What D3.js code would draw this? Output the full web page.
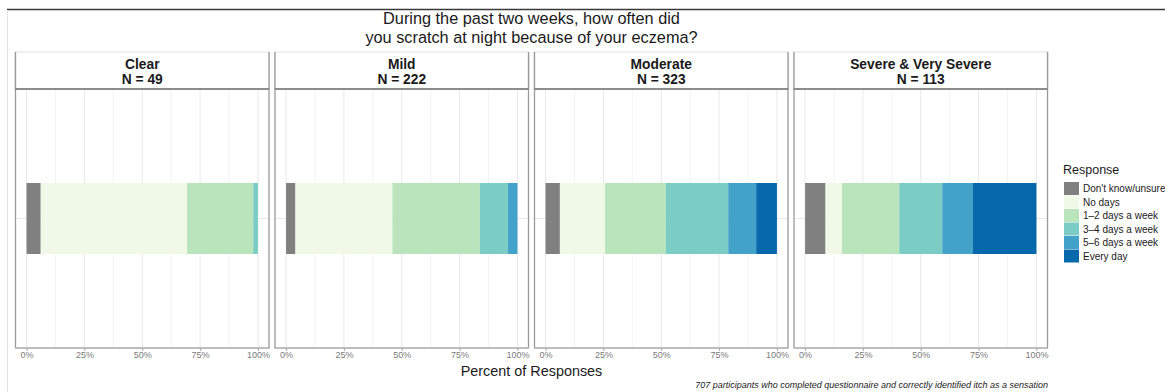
<!DOCTYPE html>
<html>
<head>
<meta charset="utf-8">
<script src="https://cdn.jsdelivr.net/npm/d3@7"></script>
<style>
  html, body { margin: 0; padding: 0; background: #fff; }
  svg { display: block; font-family: "Liberation Sans", Arial, Helvetica, sans-serif; }
</style>
</head>
<body>
<svg id="chart" width="1165" height="392"></svg>
<script>
// ---- data ----
const severities = ["Clear", "Mild", "Moderate", "Severe & Very Severe"];
const totals = [49, 222, 323, 113];
const responses = ["Don't know/unsure", "No days", "1\u20132 days a week", "3\u20134 days a week", "5\u20136 days a week", "Every day"];
const clearCounts = [3, 31, 14, 1, 0, 0];
const mildCounts = [9, 93, 84, 27, 9, 0];
const moderateCounts = [20, 63, 85, 87, 39, 29];
const severeCounts = [10, 8, 28, 21, 15, 31];
const responseColors = ["#808080", "#f0f9e8", "#bae4bc", "#7bccc4", "#43a2ca", "#0868ac"];
const majorTicks = [0, 0.25, 0.5, 0.75, 1];
const minorTicks = [0.125, 0.375, 0.625, 0.875];
const tickLabels = ["0%", "25%", "50%", "75%", "100%"];
const titleLines = ["During the past two weeks, how often did", "you scratch at night because of your eczema?"];
const xTitle = "Percent of Responses";
const legendTitle = "Response";
const caption = "707 participants who completed questionnaire and correctly identified itch as a sensation";

const countsBySeverity = [clearCounts, mildCounts, moderateCounts, severeCounts];

// ---- layout ----
const svg = d3.select("#chart");
const W = 1165, H = 392;
const left = 15, right = 1048, gap = 5;
const stripTop = 52, stripBottom = 89, panelBottom = 348;

// frame
svg.append("line").attr("x1", 7).attr("x2", W).attr("y1", 9.5).attr("y2", 9.5)
  .attr("stroke", "#3a3a3a").attr("stroke-width", 1.5);
svg.append("line").attr("x1", 7.5).attr("x2", 7.5).attr("y1", 10).attr("y2", H)
  .attr("stroke", "#e4e4e4").attr("stroke-width", 1);

const pi = gap * severities.length / (right - left + gap);
const panelScale = d3.scaleBand().domain(severities).range([left, right]).paddingInner(pi).paddingOuter(0);
const pw = panelScale.bandwidth();
const expand = pw * 0.05 / 1.1;

const yBand = d3.scaleBand().domain(["all"]).range([stripBottom, panelBottom]).paddingOuter(1.324).paddingInner(0);

// title
const title = svg.append("text").attr("x", (left + right) / 2).attr("text-anchor", "middle")
  .attr("font-size", 16.3).attr("fill", "#1a1a1a");
titleLines.forEach((t, i) => {
  title.append("tspan").attr("x", (left + right) / 2).attr("y", 24 + i * 19).text(t);
});

severities.forEach((sev, si) => {
  const x0 = panelScale(sev);
  const g = svg.append("g").attr("transform", `translate(${x0},0)`);
  const x = d3.scaleLinear().domain([0, 1]).range([expand, pw - expand]);

  // strip
  g.append("rect").attr("x", 0).attr("y", stripTop).attr("width", pw).attr("height", stripBottom - stripTop)
    .attr("fill", "#fff").attr("stroke", "#e0e0e0").attr("stroke-width", 1);
  g.append("text").attr("x", pw / 2).attr("y", 69).attr("text-anchor", "middle")
    .attr("font-size", 13.8).attr("font-weight", "bold").attr("fill", "#1a1a1a").text(sev);
  g.append("text").attr("x", pw / 2).attr("y", 84).attr("text-anchor", "middle")
    .attr("font-size", 13.8).attr("font-weight", "bold").attr("fill", "#1a1a1a").text("N = " + totals[si]);

  // grid
  g.selectAll(".minor").data(minorTicks).enter().append("line")
    .attr("x1", d => x(d)).attr("x2", d => x(d)).attr("y1", stripBottom).attr("y2", panelBottom)
    .attr("stroke", "#f3f3f3").attr("stroke-width", 1);
  g.selectAll(".major").data(majorTicks).enter().append("line")
    .attr("x1", d => x(d)).attr("x2", d => x(d)).attr("y1", stripBottom).attr("y2", panelBottom)
    .attr("stroke", "#e8e8e8").attr("stroke-width", 1);
  g.append("line").attr("x1", 0).attr("x2", pw)
    .attr("y1", yBand("all") + yBand.bandwidth() / 2).attr("y2", yBand("all") + yBand.bandwidth() / 2)
    .attr("stroke", "#e8e8e8").attr("stroke-width", 1);

  // bars
  const counts = countsBySeverity[si];
  const props = counts.map(c => c / totals[si]);
  const cum = Array.from(d3.cumsum(props));
  const segs = props.map((p, i) => ({ start: i === 0 ? 0 : cum[i - 1], end: cum[i], color: responseColors[i], p }))
    .filter(d => d.p > 0);
  g.selectAll(".bar").data(segs).enter().append("rect")
    .attr("x", d => x(d.start)).attr("width", d => x(d.end) - x(d.start))
    .attr("y", yBand("all")).attr("height", yBand.bandwidth())
    .attr("fill", d => d.color);

  // panel borders (sides + bottom axis)
  g.append("line").attr("x1", 0.5).attr("x2", 0.5).attr("y1", stripTop).attr("y2", panelBottom)
    .attr("stroke", "#9a9a9a").attr("stroke-width", 1.3);
  g.append("line").attr("x1", pw - 0.5).attr("x2", pw - 0.5).attr("y1", stripTop).attr("y2", panelBottom)
    .attr("stroke", "#9a9a9a").attr("stroke-width", 1.3);
  g.append("line").attr("x1", 0).attr("x2", pw).attr("y1", stripBottom).attr("y2", stripBottom)
    .attr("stroke", "#8c8c8c").attr("stroke-width", 2);

  // x axis
  const axis = d3.axisBottom(x).tickValues(majorTicks).tickFormat((d, i) => tickLabels[i]).tickSize(3).tickSizeOuter(0);
  const ag = g.append("g").attr("transform", `translate(0,${panelBottom})`).call(axis);
  ag.select(".domain").attr("stroke", "#a8a8a8").attr("stroke-width", 1.3).attr("d", `M0,0H${pw}`);
  ag.selectAll(".tick line").attr("stroke", "#a8a8a8");
  ag.selectAll(".tick text").attr("fill", "#7a7a7a").attr("font-size", 9).attr("y", 3).attr("dy", "0.75em")
    .attr("font-family", "Liberation Sans, Arial, sans-serif");
});

// axis title
svg.append("text").attr("x", (left + right) / 2).attr("y", 376).attr("text-anchor", "middle")
  .attr("font-size", 14.4).attr("fill", "#1a1a1a").text(xTitle);

// caption
svg.append("text").attr("x", right).attr("y", 387.5).attr("text-anchor", "end")
  .attr("font-size", 9).attr("font-style", "italic").attr("fill", "#1a1a1a").text(caption);

// legend
const lg = svg.append("g").attr("transform", "translate(1063,0)");
lg.append("text").attr("x", 0).attr("y", 174).attr("font-size", 12.5).attr("fill", "#1a1a1a").text(legendTitle);
const keyY = d3.scaleBand().domain(responses).range([182, 263]).padding(0);
lg.selectAll(".key").data(responses).enter().append("rect")
  .attr("x", 1).attr("y", d => keyY(d)).attr("width", 15).attr("height", keyY.bandwidth() - 0.5)
  .attr("fill", (d, i) => responseColors[i]);
lg.selectAll(".lab").data(responses).enter().append("text")
  .attr("x", 20).attr("y", d => keyY(d) + keyY.bandwidth() / 2 + 3.5)
  .attr("font-size", 10).attr("fill", "#1a1a1a").text(d => d);
</script>
</body>
</html>
